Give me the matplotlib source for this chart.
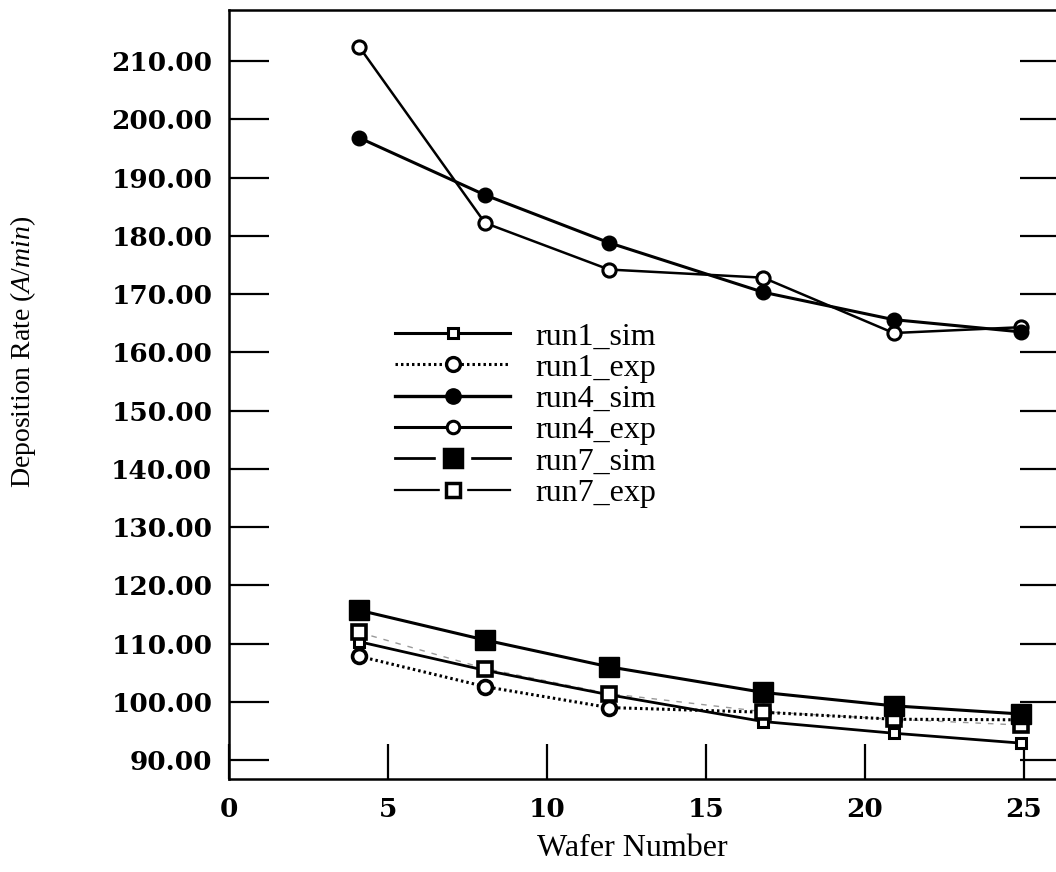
import numpy as np
import matplotlib
matplotlib.use("Agg")
import matplotlib.pyplot as plt
from matplotlib.lines import Line2D
from matplotlib.legend_handler import HandlerTuple

# Values
wafer = [4.1, 8.05, 11.95, 16.8, 20.9, 24.9]

run1_sim = [110.3, 105.4, 101.2, 96.6, 94.6, 92.9]
run1_exp = [107.8, 102.6, 99.0, 98.2, 97.0, 96.9]
run4_sim = [196.8, 187.0, 178.8, 170.3, 165.6, 163.5]
run4_exp = [212.4, 182.2, 174.2, 172.8, 163.3, 164.3]
run7_sim = [115.7, 110.6, 106.0, 101.6, 99.3, 97.9]
run7_exp = [111.9, 105.7, 101.4, 98.3, 97.0, 96.0]

series_names = ["run1_sim", "run1_exp", "run4_sim", "run4_exp", "run7_sim", "run7_exp"]
y_ticks = [90, 100, 110, 120, 130, 140, 150, 160, 170, 180, 190, 200, 210]
x_ticks = [0, 5, 10, 15, 20, 25]

plt.rcParams['font.family'] = ['Liberation Serif', 'DejaVu Serif']
plt.rcParams['mathtext.fontset'] = 'custom'
plt.rcParams['mathtext.rm'] = 'Liberation Serif'
plt.rcParams['mathtext.it'] = 'Liberation Serif:italic'

fig = plt.figure(figsize=(10.56, 8.72), dpi=100)
ax = fig.add_axes([229 / 1056, 93 / 872, 831 / 1056, 769 / 872])

#Lower group
ax.plot(wafer, run7_exp, color="0.6", lw=1.0, linestyle=(0, (4, 5)), zorder=2)
ax.plot(wafer, run7_exp, linestyle="None", marker="s", ms=10.5, mfc="white", mec="black", mew=2.6, zorder=4)
ax.plot(wafer, run1_exp, color="black", lw=2.2, linestyle=(0, (0.8, 1.0)), marker="o", ms=10,
        mfc="white", mec="black", mew=2.6, zorder=3)
ax.plot(wafer, run1_sim, color="black", lw=2.0, marker="s", ms=7.5, mfc="white", mec="black", mew=2.2, zorder=3)
ax.plot(wafer, run7_sim, color="black", lw=2.2, marker="s", ms=14, mfc="black", mec="black", zorder=5)

#Upper group
ax.plot(wafer, run4_exp, color="black", lw=1.8, marker="o", ms=9.5, mfc="white", mec="black", mew=2.2)
ax.plot(wafer, run4_sim, color="black", lw=2.2, marker="o", ms=10.5, mfc="black", mec="black")

ax.set_xlim(0, 831 / 31.8)
ax.set_ylim(90 - 19 / 5.825, 210 + 51 / 5.825)
ax.set_xticks(x_ticks)
ax.set_yticks(y_ticks)
ax.set_yticklabels(["{:.2f}".format(v) for v in y_ticks])

for side in ["left", "bottom", "top", "right"]:
    ax.spines[side].set_linewidth(1.8)

ax.tick_params(axis="y", which="both", direction="in", length=29, width=1.6, left=True, right=True,
               labelsize=19, pad=12)
ax.tick_params(axis="x", which="both", direction="in", length=25, width=1.6, top=False,
               labelsize=19, pad=13)
for lab in ax.get_xticklabels() + ax.get_yticklabels():
    lab.set_fontfamily("DejaVu Serif")
    lab.set_fontweight("bold")

ax.set_xlabel("Wafer Number", fontsize=23)
ax.xaxis.set_label_coords((632 - 229) / 831, -(834 - 779) / 769)
ax.set_ylabel(r"Deposition Rate ($\mathit{A/min}$)", fontsize=20)
ax.yaxis.set_label_coords((38 - 229) / 831, (779 - 352) / 769)

#Legend built by hand; a white square under the run7 markers opens the gap in their lines
def gap_handle(lw, ms, filled):
    mask = Line2D([], [], color="black", lw=lw, marker="s", ms=ms * 1.9, mfc="white", mec="white")
    face = "black" if filled else "white"
    mark = Line2D([], [], linestyle="None", marker="s", ms=ms, mfc=face, mec="black", mew=2.5)
    return (mask, mark)

handles = [
    Line2D([], [], color="black", lw=2.2, marker="s", ms=7.5, mfc="white", mec="black", mew=2.2),
    Line2D([], [], color="black", lw=2.2, linestyle=(0, (0.8, 1.0)), marker="o", ms=10, mfc="white", mec="black", mew=2.4),
    Line2D([], [], color="black", lw=2.4, marker="o", ms=11, mfc="black", mec="black"),
    Line2D([], [], color="black", lw=2.2, marker="o", ms=9, mfc="white", mec="black", mew=2.2),
    gap_handle(2.0, 13, True),
    gap_handle(1.6, 9.5, False),
]
ax.legend(handles, series_names, loc="upper left", bbox_to_anchor=(395 / 1056, 1 - 322 / 872),
          bbox_transform=fig.transFigure, frameon=False, fontsize=23, handlelength=3.6,
          handletextpad=0.8, labelspacing=0.06, borderpad=0, borderaxespad=0,
          handler_map={tuple: HandlerTuple(ndivide=1)})

fig.savefig("out.png", dpi=100)
